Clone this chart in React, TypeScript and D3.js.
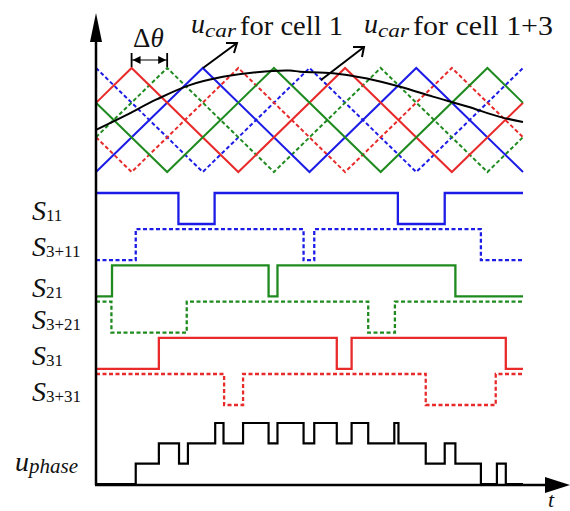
import React from "react";
import * as d3 from "d3";

// carriers: vertices as [theta in deg, value -1..1]
const blueSolid = [[0, -1], [180, 1], [360, -1], [540, 1], [720, -1]];
const blueDashed = [[0, 1], [180, -1], [360, 1], [540, -1], [720, 1]];
const redSolid = [[0, 0.33], [60, 1], [240, -1], [420, 1], [600, -1], [720, 0.33]];
const redDashed = [[0, -0.33], [60, -1], [240, 1], [420, -1], [600, 1], [720, -0.33]];
const greenSolid = [[0, 0.33], [120, -1], [300, 1], [480, -1], [660, 1], [720, 0.33]];
const greenDashed = [[0, -0.33], [120, 1], [300, -1], [480, 1], [660, -1], [720, -0.33]];

// reference (modulating) wave
const refTheta = [0, 45, 103, 158, 214, 271, 327, 344, 400, 457, 513, 568, 626, 681, 720];
const refValue = [-0.19, 0.06, 0.4, 0.67, 0.83, 0.92, 0.95, 0.93, 0.9, 0.8, 0.64, 0.45, 0.26, 0.06, -0.04];

// gate signals
const signalNames = ["11", "3+11", "21", "3+21", "31", "3+31"];
const signalStart = [1, 0, 0, 1, 0, 1];
const signalEdges = [
  [139, 200, 509, 588],
  [67, 350, 368, 649],
  [27, 291, 306, 606],
  [26, 153, 459, 504],
  [106, 406, 431, 691],
  [216, 248, 556, 674],
];

// phase voltage steps
const phaseEdges = [67, 106, 140, 155, 201, 215, 248, 291, 306, 350, 368, 406, 431, 459, 503, 510, 556, 588, 606, 649, 676, 691];
const phaseLevels = [1, 2, 1, 2, 3, 2, 3, 2, 3, 2, 3, 2, 3, 2, 3, 2, 1, 2, 1, 0, 1, 0];

const BLUE = "#1c1ce6";
const GREEN = "#1f8a1f";
const RED = "#e82a2a";
const FONT = "Liberation Serif";

const W = 570;
const H = 511;

const App = () => {
  const x = d3.scaleLinear().domain([0, 720]).range([96, 523]);
  const yCar = d3.scaleLinear().domain([-1, 1]).range([172, 68]);
  const yRow = d3.scalePoint<string>().domain(signalNames).range([193, 374]);
  const swing = 31;
  const yPhase = d3.scaleLinear().domain([0, 3]).range([484, 423]);

  const carLine = d3
    .line<number[]>()
    .x((d) => x(d[0]))
    .y((d) => yCar(d[1]));

  const refLine = d3
    .line<number>()
    .x((d) => x(d))
    .y((d, i) => yCar(refValue[i]))
    .curve(d3.curveCatmullRom);

  const carriers = [
    { pts: blueDashed, color: BLUE, dash: true },
    { pts: redDashed, color: RED, dash: true },
    { pts: greenDashed, color: GREEN, dash: true },
    { pts: blueSolid, color: BLUE, dash: false },
    { pts: redSolid, color: RED, dash: false },
    { pts: greenSolid, color: GREEN, dash: false },
  ];

  const sigColors = [BLUE, BLUE, GREEN, GREEN, RED, RED];

  function stepPoints(start: number, edges: number[], levels?: number[]) {
    const pts: [number, number][] = [[0, start]];
    let v = start;
    edges.forEach((e, i) => {
      v = levels ? levels[i] : 1 - v;
      pts.push([e, v]);
    });
    pts.push([720, v]);
    return pts;
  }

  const stepLine = (base: number) =>
    d3
      .line<[number, number]>()
      .x((d) => x(d[0]))
      .y((d) => base + (1 - d[1]) * swing)
      .curve(d3.curveStepAfter);

  const phaseLine = d3
    .line<[number, number]>()
    .x((d) => x(d[0]))
    .y((d) => yPhase(d[1]))
    .curve(d3.curveStepAfter);

  const dx0 = x(60);
  const dx1 = x(120);
  const dy = 60;

  return (
    <svg width={W} height={H} style={{ position: "absolute", left: 0, top: 0, background: "#fff" }}>
      {/* carriers */}
      {carriers.map((c, i) => (
        <path
          key={i}
          d={carLine(c.pts) || ""}
          fill="none"
          stroke={c.color}
          strokeWidth={2}
          strokeDasharray={c.dash ? "4,2.5" : undefined}
        />
      ))}
      <path d={refLine(refTheta) || ""} fill="none" stroke="#000" strokeWidth={2} />

      {/* gate signals */}
      {signalNames.map((n, i) => (
        <g key={n}>
          <path
            d={stepLine(yRow(n) as number)(stepPoints(signalStart[i], signalEdges[i])) || ""}
            fill="none"
            stroke={sigColors[i]}
            strokeWidth={2.3}
            strokeDasharray={i % 2 === 1 ? "4,2.5" : undefined}
          />
          <text x={32} y={(yRow(n) as number) + 27 + (n === "21" ? 5 : 0)} fontFamily={FONT} fontSize={28} fontStyle="italic" fill="#111">
            S
            <tspan fontStyle="normal" fontSize={17} dy={1}>
              {n}
            </tspan>
          </text>
        </g>
      ))}

      {/* phase voltage */}
      <path d={phaseLine(stepPoints(0, phaseEdges, phaseLevels)) || ""} fill="none" stroke="#000" strokeWidth={2.2} />
      <text x={15} y={471} fontFamily={FONT} fontSize={28} fontStyle="italic" fill="#111">
        u
        <tspan fontSize={21} dy={2}>
          phase
        </tspan>
      </text>

      {/* axes */}
      <line x1={96} y1={38} x2={96} y2={485} stroke="#000" strokeWidth={2.5} />
      <path d="M96,13 L90,42 L102,42 Z" fill="#000" />
      <line x1={95} y1={485} x2={548} y2={485} stroke="#000" strokeWidth={2.5} />
      <path d="M570,485 L545,477 L545,493 Z" fill="#000" />
      <text x={548} y={507} fontFamily={FONT} fontSize={22} fontStyle="italic" fill="#111">
        t
      </text>

      {/* delta theta */}
      <line x1={dx0} y1={53} x2={dx0} y2={67} stroke="#000" strokeWidth={1.8} />
      <line x1={dx1} y1={53} x2={dx1} y2={67} stroke="#000" strokeWidth={1.8} />
      <line x1={dx0} y1={dy} x2={dx1} y2={dy} stroke="#000" strokeWidth={1.2} />
      <path d={`M${dx0 + 1},${dy} L${dx0 + 9},${dy - 4} L${dx0 + 9},${dy + 4} Z`} fill="#000" />
      <path d={`M${dx1 - 1},${dy} L${dx1 - 9},${dy - 4} L${dx1 - 9},${dy + 4} Z`} fill="#000" />
      <text x={133} y={47} fontFamily={FONT} fontSize={27} fill="#111">
        Δ<tspan fontStyle="italic">θ</tspan>
      </text>

      {/* annotations */}
      <g stroke="#000" strokeWidth={2} fill="none">
        <line x1={203} y1={68} x2={237} y2={43} />
        <path d="M226,43 L237,43 L234,53" />
        <line x1={321} y1={80} x2={364} y2={47} />
        <path d="M353,47 L364,47 L362,57" />
      </g>
      <text x={191} y={33} fontFamily={FONT} fontSize={28} fontStyle="italic" fill="#111">
        u
      </text>
      <text x={205} y={37} fontFamily={FONT} fontSize={18} fontStyle="italic" fill="#111" textLength={31} lengthAdjust="spacingAndGlyphs">
        car
      </text>
      <text x={240} y={35} fontFamily={FONT} fontSize={27} fill="#111" textLength={103} lengthAdjust="spacingAndGlyphs">
        for cell 1
      </text>
      <text x={364} y={33} fontFamily={FONT} fontSize={28} fontStyle="italic" fill="#111">
        u
      </text>
      <text x={378} y={37} fontFamily={FONT} fontSize={18} fontStyle="italic" fill="#111" textLength={31} lengthAdjust="spacingAndGlyphs">
        car
      </text>
      <text x={413} y={35} fontFamily={FONT} fontSize={27} fill="#111" textLength={140} lengthAdjust="spacingAndGlyphs">
        for cell 1+3
      </text>
    </svg>
  );
};

export default App;
